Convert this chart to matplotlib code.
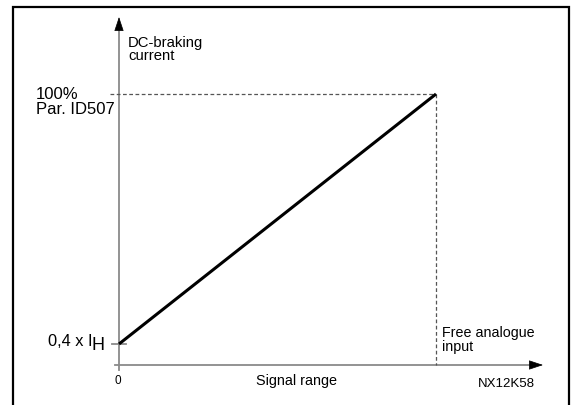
import matplotlib
matplotlib.use("Agg")
import matplotlib.pyplot as plt
from matplotlib.patches import Rectangle

# data: signal range (0..1) vs DC-braking current (x I_H)
signal = [0.0, 1.0]
current = [0.4, 1.0]
y_labels = ["0,4 x I", "100%\nPar. ID507"]

plt.rcParams['font.family'] = ['Liberation Sans', 'DejaVu Sans']

W, H = 585, 405
fig = plt.figure(figsize=(W / 100, H / 100), dpi=100)
ax = fig.add_axes([0, 0, 1, 1])
ax.set_axis_off()

# pixel layout -> data limits (x: 0 at px 119, 1 at px 436; y: 0.4 at px 344, 1.0 at px 94)
x0px, x1px = 119, 436
y0px, y1px = 344, 94
sx = (x1px - x0px) / (signal[1] - signal[0])
sy = (y0px - y1px) / (current[1] - current[0])
ax.set_xlim(signal[0] - x0px / sx, signal[0] + (W - x0px) / sx)
ax.set_ylim(current[0] - (H - y0px) / sy, current[0] + y0px / sy)


def px(x, y):
    return (signal[0] + (x - x0px) / sx, current[0] + (y0px - y) / sy)


# outer frame (bottom edge runs off the picture)
fig.patches.append(Rectangle((13 / W, -0.05), (569 - 13) / W, 1.05 - 7 / H,
                             transform=fig.transFigure, fill=False,
                             edgecolor='black', linewidth=1.6))

grey = '#8a8a8a'
x_axis_y = px(0, 365)[1]
head = dict(arrowstyle='-|>,head_length=0.9,head_width=0.3', color='black',
            lw=0.5, shrinkA=0, shrinkB=0, mutation_scale=10)

# y axis
ax.plot([signal[0], signal[0]], [px(0, 370)[1], px(0, 25)[1]], color=grey, lw=1.3)
ax.annotate('', xy=(signal[0], px(0, 17)[1]), xytext=(signal[0], px(0, 30)[1]),
            arrowprops=head)
# x axis
ax.plot([px(115, 0)[0], px(534, 0)[0]], [x_axis_y, x_axis_y], color=grey, lw=1.3)
ax.annotate('', xy=(px(543, 0)[0], x_axis_y), xytext=(px(531, 0)[0], x_axis_y),
            arrowprops=head)
# tick at 0,4 x I_H
ax.plot([px(112, 0)[0], px(126, 0)[0]], [current[0], current[0]], color=grey, lw=1.3)

# dashed guides
ax.plot([px(110, 0)[0], signal[1]], [current[1], current[1]], color='#555555',
        lw=0.9, ls=(0, (3, 2)))
ax.plot([signal[1], signal[1]], [current[1], x_axis_y], color='#555555',
        lw=0.9, ls=(0, (3, 2)))

# characteristic line
ax.plot(signal, current, color='black', lw=2.2, solid_capstyle='butt')

ax.text(*px(128, 36), "DC-braking\ncurrent", fontsize=10.7, va='top', ha='left',
        linespacing=0.95)
ax.text(*px(36, 102), y_labels[1], fontsize=12, va='center', ha='left',
        linespacing=0.95)
ax.text(*px(93, 341), y_labels[0], fontsize=11.8, va='center', ha='right')
ax.text(*px(92, 346), "H", fontsize=13, va='center', ha='left')
ax.text(*px(118, 381), "0", fontsize=8.5, va='center', ha='center')
ax.text(*px(297, 381), "Signal range", fontsize=10.4, va='center', ha='center')
ax.text(*px(506, 384), "NX12K58", fontsize=9.5, va='center', ha='center')
ax.text(*px(442, 340), "Free analogue\ninput", fontsize=10.3, va='center', ha='left',
        linespacing=0.95)

fig.savefig("out.png", dpi=100)
